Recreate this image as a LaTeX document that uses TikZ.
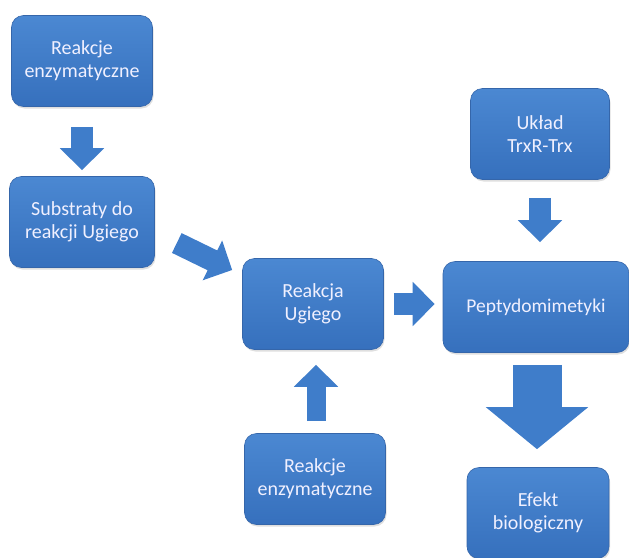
\documentclass[tikz,border=0pt]{standalone}
\usepackage{fontspec}
\setmainfont{Carlito}
\usetikzlibrary{arrows.meta,shadows}

\definecolor{boxtop}{HTML}{4B88D2}
\definecolor{boxbottom}{HTML}{3670BD}
\definecolor{boxline}{HTML}{3566AA}
\definecolor{arrowblue}{HTML}{3F7DCA}

\tikzset{
  box/.style={rectangle, rounded corners=12pt, draw=boxline, line width=0.6pt,
    top color=boxtop, bottom color=boxbottom, text=white!94!blue, align=center,
    minimum width=141pt, minimum height=91pt, inner sep=2pt,
    font=\fontsize{20}{23}\selectfont,
    drop shadow={shadow xshift=1pt, shadow yshift=-2pt, opacity=0.25}},
  smallarrow/.style={draw=arrowblue, line width=22pt,
    -{Triangle[length=22pt,width=43pt]}},
  bigarrow/.style={draw=arrowblue, line width=49pt,
    -{Triangle[length=42pt,width=100pt]}}
}

\begin{document}
\begin{tikzpicture}[x=1pt,y=-1pt]

\useasboundingbox (0,0) rectangle (629,557);

\node[box] (enza) at (82,61) {Reakcje\\enzymatyczne};
\node[box, minimum width=145pt] (sub) at (82,222) {Substraty do\\reakcji Ugiego};
\node[box] (ugi) at (313,304) {Reakcja\\Ugiego};
\node[box] (enzb) at (315,479) {Reakcje\\enzymatyczne};
\node[box, minimum width=139pt] (trx) at (540,134) {Układ\\TrxR-Trx};
\node[box, minimum width=186pt, font=\fontsize{19.5}{23}\selectfont] (pep) at (536,307) {Peptydomimetyki};
\node[box, minimum width=142pt] (efekt) at (538,513) {Efekt\\biologiczny};

\draw[smallarrow, shorten <=20pt, shorten >=6pt] (enza.south) -- (sub.north);
\draw[smallarrow] ([xshift=22pt,yshift=-21pt]sub.east) -- ([xshift=-10pt,yshift=34pt]ugi.west);
\draw[smallarrow, shorten <=10pt, shorten >=8pt] (ugi.east) -- (ugi.east -| pep.west);
\draw[smallarrow, line width=19pt, shorten <=12pt, shorten >=15pt] ([xshift=1pt]enzb.north) -- ([xshift=1pt]enzb.north |- ugi.south);
\draw[smallarrow, shorten <=18pt, shorten >=19pt] (trx.south) -- (trx.south |- pep.north);
\draw[bigarrow, shorten <=12pt, shorten >=18pt] ([xshift=1pt]pep.south) -- ([xshift=1pt]pep.south |- efekt.north);

\end{tikzpicture}
\end{document}
